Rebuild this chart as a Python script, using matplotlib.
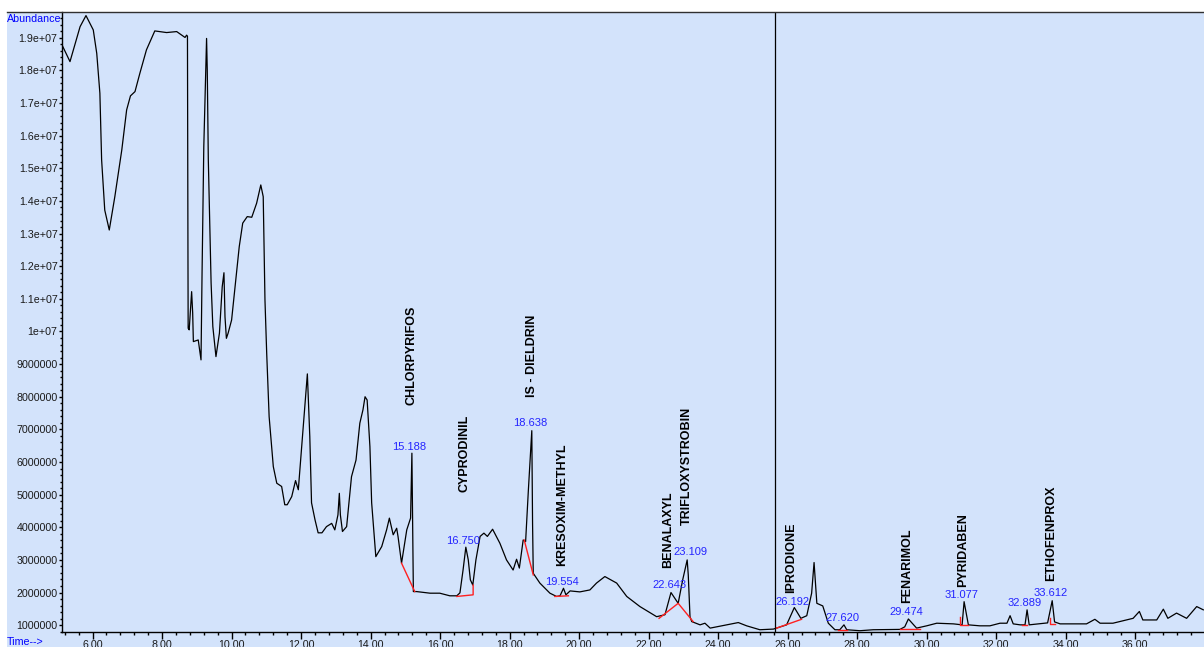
import numpy as np
import matplotlib
matplotlib.use('Agg')
import matplotlib.pyplot as plt
from matplotlib.ticker import MultipleLocator, FuncFormatter
from matplotlib.lines import Line2D
from matplotlib.patches import Rectangle

times = [5.12, 5.35, 5.64, 5.81, 6.02, 6.12, 6.21, 6.26, 6.35, 6.48, 6.64, 6.84, 6.98, 7.09,
         7.22, 7.36, 7.55, 7.79, 8.13, 8.42, 8.66, 8.705, 8.73, 8.74, 8.745, 8.75, 8.78, 8.85,
         8.88, 8.90, 9.04, 9.12, 9.15, 9.20, 9.28, 9.30, 9.33, 9.41, 9.46, 9.55, 9.65, 9.73,
         9.78, 9.81, 9.85, 9.90, 10.00, 10.10, 10.22, 10.32, 10.45, 10.58, 10.72, 10.84, 10.91,
         10.96, 11.01, 11.08, 11.20, 11.30, 11.44, 11.53, 11.60, 11.73, 11.84, 11.92, 12.04,
         12.18, 12.25, 12.30, 12.40, 12.49, 12.60, 12.73, 12.88, 12.97, 13.06, 13.10, 13.13,
         13.19, 13.31, 13.45, 13.58, 13.69, 13.78, 13.84, 13.90, 13.98, 14.03, 14.15, 14.32,
         14.46, 14.54, 14.65, 14.75, 14.79, 14.89, 15.04, 15.15, 15.18, 15.188, 15.23, 15.32,
         15.71, 15.99, 16.28, 16.48, 16.57, 16.66, 16.74, 16.81, 16.87, 16.94, 17.03, 17.15,
         17.26, 17.36, 17.51, 17.72, 17.91, 18.10, 18.20, 18.28, 18.39, 18.46, 18.54, 18.60,
         18.638, 18.66, 18.68, 18.87, 19.16, 19.35, 19.45, 19.55, 19.62, 19.74, 20.02, 20.31,
         20.50, 20.74, 21.08, 21.37, 21.75, 22.23, 22.47, 22.643, 22.85, 22.98, 23.109, 23.14,
         23.19, 23.24, 23.48, 23.62, 23.77, 24.25, 24.58, 24.82, 25.20, 25.59, 25.97, 26.192,
         26.38, 26.55, 26.69, 26.76, 26.84, 27.01, 27.17, 27.36, 27.50, 27.62, 27.70, 28.08,
         28.46, 29.23, 29.37, 29.474, 29.71, 30.00, 30.29, 30.77, 31.02, 31.077, 31.20, 31.53,
         31.82, 32.11, 32.31, 32.40, 32.49, 32.69, 32.83, 32.889, 32.95, 33.22, 33.48, 33.612,
         33.68, 33.84, 34.60, 34.84, 34.99, 35.36, 35.94, 36.12, 36.22, 36.62, 36.81, 36.94,
         37.19, 37.48, 37.77, 37.96]
abund_m = [18.78, 18.27, 19.34, 19.68, 19.24, 18.52, 17.30, 15.26, 13.72, 13.11, 14.13, 15.56,
           16.79, 17.22, 17.35, 17.91, 18.63, 19.21, 19.16, 19.19, 19.01, 19.08, 19.05, 13.2,
           12.1, 10.1, 10.05, 11.22, 10.57, 9.69, 9.74, 9.13, 11.79, 15.66, 18.98, 18.0, 15.26,
           11.49, 10.15, 9.23, 9.95, 11.37, 11.80, 10.45, 9.79, 9.95, 10.35, 11.37, 12.60, 13.32,
           13.52, 13.50, 13.93, 14.49, 14.13, 10.97, 9.33, 7.39, 5.86, 5.35, 5.25, 4.69, 4.69,
           4.94, 5.43, 5.15, 6.78, 8.70, 6.78, 4.75, 4.23, 3.83, 3.83, 4.02, 4.12, 3.92, 4.38,
           5.04, 4.38, 3.87, 4.02, 5.55, 6.06, 7.19, 7.60, 8.00, 7.90, 6.47, 4.75, 3.10, 3.41,
           3.92, 4.28, 3.77, 3.97, 3.71, 2.90, 3.92, 4.28, 5.96, 6.27, 2.03, 2.03, 1.98, 1.98,
           1.90, 1.90, 1.99, 2.69, 3.39, 3.00, 2.39, 2.23, 3.00, 3.72, 3.82, 3.72, 3.94, 3.51,
           3.00, 2.69, 3.02, 2.75, 3.61, 3.56, 5.15, 6.27, 6.96, 4.12, 2.59, 2.29, 1.98, 1.88,
           1.90, 2.13, 1.93, 2.05, 2.02, 2.08, 2.29, 2.49, 2.29, 1.88, 1.57, 1.26, 1.32, 2.00,
           1.67, 2.39, 3.00, 2.54, 1.26, 1.11, 1.01, 1.06, 0.91, 1.01, 1.08, 0.98, 0.86, 0.88,
           1.01, 1.54, 1.21, 1.29, 1.98, 2.92, 1.67, 1.59, 1.06, 0.86, 0.86, 1.01, 0.86, 0.83,
           0.86, 0.87, 0.95, 1.19, 0.91, 0.98, 1.06, 1.04, 1.01, 1.72, 1.01, 0.98, 0.98, 1.06,
           1.06, 1.29, 1.04, 1.01, 1.01, 1.47, 1.01, 1.04, 1.07, 1.75, 1.10, 1.04, 1.04, 1.18,
           1.06, 1.06, 1.21, 1.42, 1.16, 1.16, 1.49, 1.21, 1.37, 1.21, 1.57, 1.47]

# integration baselines (red)
baselines = [
    ([14.89, 15.27], [2.90, 2.03]),
    ([16.48, 16.95, 16.95], [1.88, 1.93, 2.23]),
    ([18.42, 18.68], [3.61, 2.54]),
    ([19.30, 19.69], [1.88, 1.90]),
    ([22.30, 22.85, 23.28], [1.21, 1.67, 1.11]),
    ([25.68, 26.40], [0.91, 1.18]),
    ([27.45, 27.70], [0.86, 0.86]),
    ([29.23, 29.81], [0.88, 0.88]),
    ([30.96, 30.96, 31.20], [1.25, 1.00, 1.00]),
    ([32.74, 32.89], [1.00, 1.00]),
    ([33.55, 33.55, 33.69], [1.23, 1.04, 1.04]),
]

# retention time labels (blue)
rt_labels = ['15.188', '16.750', '18.638', '19.554', '22.643', '23.109',
             '26.192', '27.620', '29.474', '31.077', '32.889', '33.612']
rt_x = [15.11, 16.67, 18.60, 19.50, 22.59, 23.19, 26.14, 27.58, 29.42, 31.00, 32.83, 33.57]
rt_y = [6.45, 3.59, 7.19, 2.32, 2.23, 3.24, 1.72, 1.21, 1.39, 1.93, 1.67, 2.00]

# compound names
names = ['CHLORPYRIFOS', 'CYPRODINIL', 'IS - DIELDRIN', 'KRESOXIM-METHYL', 'BENALAXYL',
         'TRIFLOXYSTROBIN', 'IPRODIONE', 'FENARIMOL', 'PYRIDABEN', 'ETHOFENPROX']
name_x = [15.18, 16.71, 18.63, 19.50, 22.56, 23.09, 26.10, 29.44, 31.05, 33.58]
name_y = [7.75, 5.09, 8.00, 2.80, 2.75, 4.07, 1.98, 1.67, 2.18, 2.34]

cursor_t = 25.63

bg = '#d3e3fb'
plain = ['Liberation Sans', 'DejaVu Sans']

W, H = 1204, 647
fig = plt.figure(figsize=(W / 100, H / 100), dpi=100, facecolor='white')

# blue panel behind everything + top border
fig.patches.append(Rectangle((7 / W, 0), 1 - 7 / W, 1 - 12 / H, transform=fig.transFigure,
                             facecolor=bg, edgecolor='none', zorder=-5))
fig.lines.append(Line2D([7 / W, 1], [1 - 12 / H, 1 - 12 / H], transform=fig.transFigure,
                        color='#303030', lw=1.0, zorder=5))

ax = fig.add_axes([62 / W, 15.3 / H, 1 - 62 / W, 1 - 12 / H - 15.3 / H])
ax.set_zorder(2)
ax.set_facecolor(bg)

t = np.array(times)
a = np.array(abund_m) * 1e6
ax.plot(t, a, color='black', lw=0.9, zorder=3)

for bx, by in baselines:
    ax.plot(bx, np.array(by) * 1e6, color='#ff2020', lw=1.0, zorder=4)

ax.axvline(cursor_t, color='black', lw=0.9, zorder=2)

for lab, x, y in zip(rt_labels, rt_x, rt_y):
    ax.text(x, y * 1e6, lab, color='#2424ff', ha='center', va='center',
            fontsize=8.0, family=plain, zorder=5)

for nm, x, y in zip(names, name_x, name_y):
    ax.text(x, y * 1e6, nm, rotation=90, ha='center', va='bottom', fontsize=9.0,
            fontweight='bold', family=plain, color='black', zorder=5)

ax.set_xlim(5.12, 37.98)
ax.set_ylim(0.80e6, 19.79e6)

ax.spines['top'].set_visible(False)
ax.spines['right'].set_visible(False)
for s in ('left', 'bottom'):
    ax.spines[s].set_color('black')
    ax.spines[s].set_linewidth(1.0)

ax.xaxis.set_major_locator(MultipleLocator(2))
ax.xaxis.set_minor_locator(MultipleLocator(0.4))
ax.yaxis.set_major_locator(MultipleLocator(1e6))
ax.yaxis.set_minor_locator(MultipleLocator(2e5))
ax.xaxis.set_major_formatter(FuncFormatter(lambda v, p: '%.2f' % v))


def yfmt(v, p):
    if v < 1e7 - 1:
        return '%d' % round(v)
    return '%g' % v


ax.yaxis.set_major_formatter(FuncFormatter(yfmt))

ax.tick_params(axis='x', which='major', length=5, width=1, pad=0.8, labelsize=7.7,
               labelcolor='#1a1a1a')
ax.tick_params(axis='x', which='minor', length=2.3, width=1)
ax.tick_params(axis='y', which='major', length=2.2, width=1, pad=1, labelsize=7.7,
               labelcolor='#1a1a1a')
ax.tick_params(axis='y', which='minor', length=1.4, width=1)
for lab in ax.get_xticklabels() + ax.get_yticklabels():
    lab.set_family(plain)

fig.text(7 / W, 1 - 19 / H, 'Abundance', color='#0000ff', fontsize=7.7, family=plain,
         ha='left', va='center')
fig.text(7 / W, 5 / H, 'Time-->', color='#0000ff', fontsize=7.7, family=plain,
         ha='left', va='center')

fig.savefig('out.png', dpi=100, facecolor='white')
